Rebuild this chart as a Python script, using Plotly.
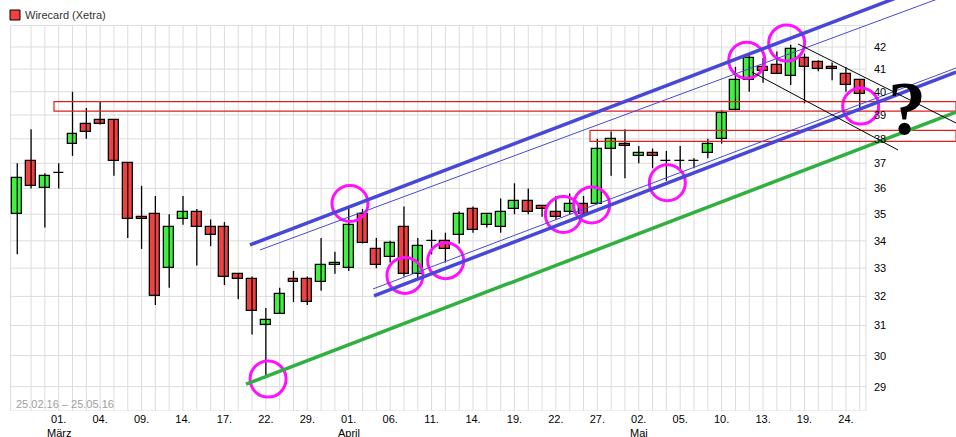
import math
import plotly.graph_objects as go

# trading days 25.02.16 - 25.05.16 (day, month)
days = [25, 26, 29, 1, 2, 3, 4, 7, 8, 9, 10, 11, 14, 15, 16, 17, 18, 21, 22, 23, 24,
        29, 30, 31, 1, 4, 5, 6, 7, 8, 11, 12, 13, 14, 15, 18, 19, 20, 21, 22, 25, 26, 27, 28, 29,
        2, 3, 4, 5, 6, 9, 10, 11, 12, 13, 17, 18, 19, 20, 23, 24, 25]
months = [2, 2, 2] + [3] * 18 + [3, 3, 3] + [4] * 21 + [5] * 17
month_names = {3: "März", 4: "April", 5: "Mai"}

open_ = [35.0, 37.1, 36.0, 36.6, 37.8, 38.6, 38.8, 38.8, 37.0, 34.9, 35.0, 33.0, 34.8, 35.1, 34.5, 34.5,
         32.8, 32.6, 31.0, 31.4, 32.6, 32.6, 32.5, 33.1, 33.0, 35.0, 33.7, 33.4, 34.5, 32.8, 34.0, 34.0,
         34.2, 35.2, 34.6, 34.5, 35.2, 35.5, 35.3, 35.1, 35.1, 35.4, 35.4, 37.6, 37.8, 37.3, 37.4, 37.1,
         37.1, 37.1, 37.4, 38.0, 39.2, 40.5, 41.1, 41.2, 40.7, 41.5, 41.3, 41.1, 40.8, 40.5]
close = [36.4, 36.1, 36.5, 36.6, 38.2, 38.3, 38.6, 37.1, 34.8, 34.8, 32.0, 34.5, 35.1, 34.5, 34.2, 32.7,
         32.6, 31.5, 31.2, 32.1, 32.5, 31.8, 33.1, 33.2, 34.6, 33.9, 33.1, 33.9, 32.8, 33.8, 34.0, 33.7,
         35.0, 34.4, 35.0, 35.1, 35.5, 35.1, 35.2, 34.9, 35.4, 35.0, 37.6, 38.0, 37.7, 37.4, 37.3, 37.1,
         37.1, 37.1, 37.8, 39.1, 40.5, 41.5, 40.9, 40.8, 41.9, 41.1, 41.0, 41.0, 40.3, 39.9]
high = [37.0, 38.4, 36.6, 37.0, 40.0, 39.3, 39.6, 38.8, 37.0, 36.1, 35.7, 35.0, 35.7, 35.2, 34.8, 34.7,
        32.8, 32.7, 31.6, 32.3, 32.9, 32.7, 34.1, 33.6, 35.3, 35.2, 34.1, 34.0, 35.3, 34.1, 34.4, 34.3,
        35.1, 35.3, 35.0, 35.6, 36.2, 36.0, 35.3, 35.7, 35.8, 35.7, 38.0, 38.3, 38.4, 37.7, 37.6, 37.5,
        37.7, 37.2, 38.0, 39.2, 41.1, 41.7, 41.5, 41.8, 42.1, 41.7, 41.4, 41.3, 41.1, 40.5]
low = [33.5, 36.0, 34.5, 36.0, 37.3, 38.0, 38.6, 36.5, 34.1, 33.7, 31.7, 32.3, 34.6, 33.1, 33.8, 32.4,
       31.9, 30.7, 29.3, 31.4, 31.8, 31.7, 32.2, 32.8, 32.9, 33.9, 33.0, 33.2, 32.7, 32.6, 33.5, 33.2,
       33.9, 34.3, 34.5, 34.3, 35.0, 35.0, 34.9, 34.8, 35.0, 34.9, 35.4, 36.5, 36.4, 37.0, 36.8, 36.3,
       36.7, 36.8, 37.2, 37.8, 39.2, 40.0, 40.4, 40.8, 40.3, 39.5, 40.9, 40.5, 40.0, 39.2]

y_ticks = list(range(29, 43))

# trend lines: (x0, y0, x1, y1) in trading-day index / price
blue_thick = [(16.85, 33.85, 66.09, 44.94), (25.83, 32.02, 67.97, 40.87)]
blue_thin = [(17.57, 33.66, 67.97, 44.59), (25.76, 32.26, 67.97, 41.05)]
green_line = (16.56, 29.08, 67.97, 39.12)
black_lines = [(56.53, 42.14, 67.97, 38.66), (53.20, 40.87, 63.77, 37.54)]
red_boxes = [(2.66, 39.16, 67.97, 39.57), (41.47, 37.89, 67.97, 38.35)]
circle_x = [18.16, 24.09, 28.07, 31.02, 39.54, 41.59, 47.07, 52.82, 55.71, 61.07]
circle_y = [29.24, 35.41, 32.74, 33.27, 34.99, 35.35, 36.22, 41.40, 42.18, 39.38]

n = len(days)
x = list(range(n))
x_left, x_right, x_end = -0.48, 61.45, 67.97
y_bottom, y_top_grid = 28.24, 43.0

ticktext = []
month_labels = []
seen = set()
for i in x:
    if i >= 3 and (i - 3) % 3 == 0:
        ticktext.append(f"{days[i]:02d}.")
        m = months[i]
        if m not in seen and m in month_names:
            month_labels.append((i, month_names[m]))
            seen.add(m)
    else:
        ticktext.append("")

fig = go.Figure()

# wicks
wx, wy = [], []
for i in x:
    wx += [i, i, None]
    wy += [low[i], high[i], None]
fig.add_trace(go.Scatter(x=wx, y=wy, mode="lines", line=dict(color="black", width=1.3),
                         hoverinfo="skip", showlegend=False))

# bodies
body_base = [min(o, c) for o, c in zip(open_, close)]
body_len = [max(abs(c - o), 0.001) for o, c in zip(open_, close)]
body_col = ["#40f040" if c > o else ("black" if c == o else "#f04040") for o, c in zip(open_, close)]
fig.add_trace(go.Bar(x=x, y=body_len, base=body_base, width=0.72,
                     marker=dict(color=body_col, line=dict(color="black", width=1.3)),
                     hoverinfo="skip", showlegend=False))

shapes = []
grid = dict(color="#dcdcdc", width=1)
for i in x[1:] + [x_left, x_right]:
    shapes.append(dict(type="line", xref="x", yref="y", x0=i, x1=i, y0=y_bottom, y1=y_top_grid, line=grid, layer="below"))
for v in y_ticks + [y_top_grid, y_bottom]:
    shapes.append(dict(type="line", xref="x", yref="y", x0=x_left, x1=x_right, y0=v, y1=v, line=grid, layer="below"))

for x0, y0, x1, y1 in red_boxes:
    shapes.append(dict(type="rect", xref="x", yref="y", x0=x0, x1=x1, y0=y0, y1=y1, line=dict(color="#e02020", width=1.2)))
for x0, y0, x1, y1 in blue_thick:
    shapes.append(dict(type="line", xref="x", yref="y", x0=x0, x1=x1, y0=y0, y1=y1, line=dict(color="#4848d8", width=3.5)))
for x0, y0, x1, y1 in blue_thin:
    shapes.append(dict(type="line", xref="x", yref="y", x0=x0, x1=x1, y0=y0, y1=y1, line=dict(color="#4848d8", width=1)))
x0, y0, x1, y1 = green_line
shapes.append(dict(type="line", xref="x", yref="y", x0=x0, x1=x1, y0=y0, y1=y1, line=dict(color="#30b040", width=3.5)))
for x0, y0, x1, y1 in black_lines:
    shapes.append(dict(type="line", xref="x", yref="y", x0=x0, x1=x1, y0=y0, y1=y1, line=dict(color="black", width=1)))
# legend swatch
shapes.append(dict(type="rect", xref="paper", yref="paper", x0=10 / 956, x1=20 / 956,
                   y0=(411 - 20) / 411, y1=(411 - 10) / 411, fillcolor="#f04040", line=dict(color="black", width=1)))

fig.add_trace(go.Scatter(
    x=circle_x, y=circle_y, mode="markers", hoverinfo="skip", showlegend=False,
    marker=dict(symbol="circle-open", size=36, line=dict(color="#ff10ff", width=3), color="#ff10ff"),
))

annotations = []
for v in y_ticks:
    annotations.append(dict(x=61.9, y=math.log10(v), xref="x", yref="y", text=str(v), showarrow=False,
                            xanchor="left", font=dict(size=11, color="black")))
for i, name in month_labels:
    annotations.append(dict(x=i, y=(411 - 432.5) / 411, xref="x", yref="paper", text=name, showarrow=False,
                            yanchor="middle", font=dict(size=11, color="black")))
annotations += [
    dict(x=64.42, y=math.log10(39.3), xref="x", yref="y", text="<b>?</b>", showarrow=False,
         font=dict(size=76, color="black", family="Liberation Serif")),
    dict(x=14 / 956, y=(411 - 404) / 411, xref="paper", yref="paper", text="25.02.16 – 25.05.16",
         showarrow=False, xanchor="left", yanchor="middle", font=dict(size=11, color="#a0a0a0")),
    dict(x=23 / 956, y=(411 - 15) / 411, xref="paper", yref="paper", text="Wirecard (Xetra)",
         showarrow=False, xanchor="left", yanchor="middle", font=dict(size=11, color="#333333")),
]

fig.update_layout(
    width=956, height=437,
    margin=dict(l=0, r=0, t=0, b=26, autoexpand=False),
    plot_bgcolor="white", paper_bgcolor="white",
    font=dict(family="Liberation Sans", size=11, color="black"),
    shapes=shapes, annotations=annotations, bargap=0,
    xaxis=dict(range=[-1.25, x_end], showgrid=False, zeroline=False, showline=False, automargin=False,
               tickvals=x, ticktext=ticktext, ticks="", tickfont=dict(size=11), fixedrange=True),
    yaxis=dict(type="log", range=[math.log10(y_bottom), math.log10(44.21)], showgrid=False,
               zeroline=False, showticklabels=False, fixedrange=True, automargin=False),
)

fig.write_html("out.html", config={"displayModeBar": False},
               post_script="document.body.style.margin='0';document.body.style.overflow='hidden';")
